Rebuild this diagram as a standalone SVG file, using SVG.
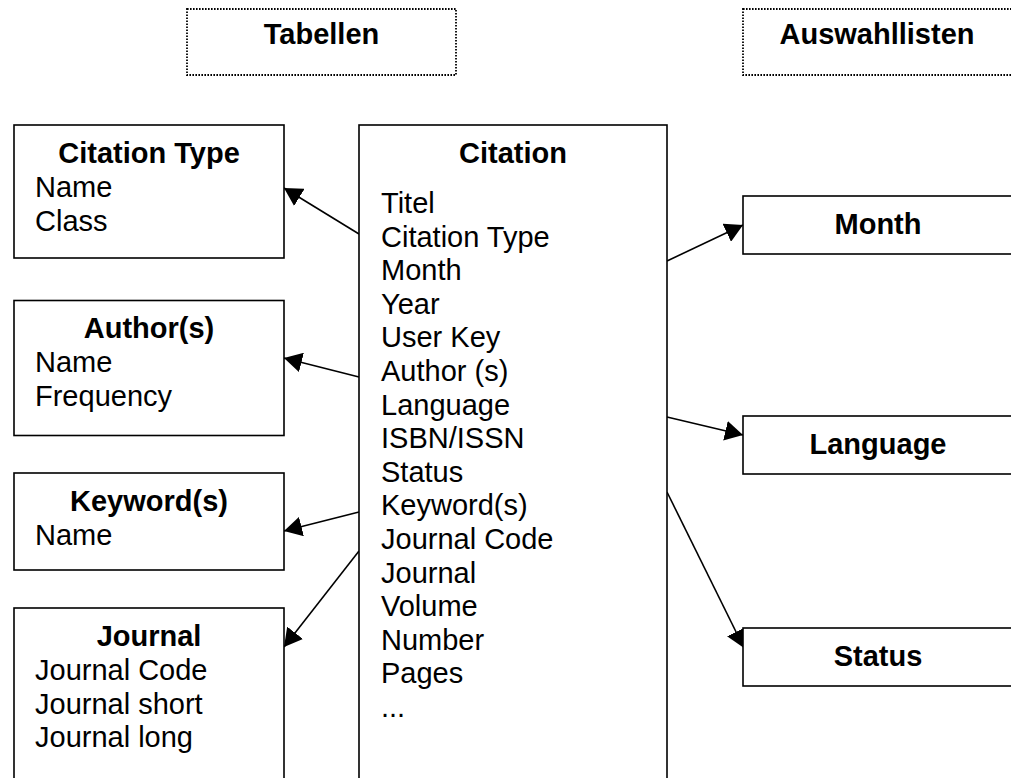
<svg xmlns="http://www.w3.org/2000/svg" width="1011" height="778" viewBox="0 0 1011 778">
<style>
text{font-family:"Liberation Sans",Arial,sans-serif;font-size:29px;fill:#000}
.b{font-weight:bold}
.c{text-anchor:middle}
.box{fill:#fff;stroke:#000;stroke-width:1.6}
.dot{fill:#fff;stroke:#000;stroke-width:1.8;stroke-dasharray:1.6 1.4}
.conn line{stroke:#000;stroke-width:1.6;marker-end:url(#arr)}
</style>
<defs>
<marker id="arr" viewBox="0 0 18 20" refX="18" refY="10" markerWidth="18" markerHeight="20" markerUnits="userSpaceOnUse" orient="auto">
<path d="M0,0 L18,10 L0,20 z" fill="#000"/>
</marker>
</defs>
<rect width="1011" height="778" fill="#fff"/>
<g id="hdr-tabellen">
<rect class="dot" x="187" y="9" width="269" height="66"/>
<text class="b c" x="321.5" y="44">Tabellen</text>
</g>
<g id="hdr-auswahllisten">
<rect class="dot" x="743" y="9" width="275" height="66"/>
<text class="b c" x="877" y="44">Auswahllisten</text>
</g>
<g class="conn" id="connectors">
<line x1="359" y1="234" x2="284" y2="188"/>
<line x1="359" y1="377" x2="284" y2="358"/>
<line x1="359" y1="512" x2="284" y2="531"/>
<line x1="359" y1="551" x2="284" y2="647"/>
<line x1="667" y1="261" x2="743" y2="225"/>
<line x1="667" y1="417" x2="743" y2="435"/>
<line x1="667" y1="492" x2="744" y2="648"/>
</g>
<g id="citation">
<rect class="box" x="359" y="125" width="308" height="670"/>
<text class="b c" x="513" y="163">Citation</text>
<text x="381" y="213">Titel</text>
<text x="381" y="246.6">Citation Type</text>
<text x="381" y="280.2">Month</text>
<text x="381" y="313.8">Year</text>
<text x="381" y="347.4">User Key</text>
<text x="381" y="381">Author (s)</text>
<text x="381" y="414.6">Language</text>
<text x="381" y="448.2">ISBN/ISSN</text>
<text x="381" y="481.8">Status</text>
<text x="381" y="515.4">Keyword(s)</text>
<text x="381" y="549">Journal Code</text>
<text x="381" y="582.6">Journal</text>
<text x="381" y="616.2">Volume</text>
<text x="381" y="649.8">Number</text>
<text x="381" y="683.4">Pages</text>
<text x="381" y="717">...</text>
</g>
<g id="citation-type">
<rect class="box" x="14" y="125" width="270" height="133"/>
<text class="b c" x="149" y="163">Citation Type</text>
<text x="35" y="197">Name</text>
<text x="35" y="230.6">Class</text>
</g>
<g id="authors">
<rect class="box" x="14" y="300.5" width="270" height="135"/>
<text class="b c" x="149" y="338">Author(s)</text>
<text x="35" y="372">Name</text>
<text x="35" y="405.6">Frequency</text>
</g>
<g id="keywords">
<rect class="box" x="14" y="473" width="270" height="97"/>
<text class="b c" x="149" y="511">Keyword(s)</text>
<text x="35" y="545">Name</text>
</g>
<g id="journal">
<rect class="box" x="14" y="608" width="270" height="190"/>
<text class="b c" x="149" y="646">Journal</text>
<text x="35" y="680">Journal Code</text>
<text x="35" y="713.6">Journal short</text>
<text x="35" y="747.2">Journal long</text>
</g>
<g id="month">
<rect class="box" x="743" y="196" width="270" height="58"/>
<text class="b c" x="878" y="234">Month</text>
</g>
<g id="language">
<rect class="box" x="743" y="416" width="270" height="58"/>
<text class="b c" x="878" y="454">Language</text>
</g>
<g id="status">
<rect class="box" x="743" y="628" width="270" height="58"/>
<text class="b c" x="878" y="666">Status</text>
</g>
</svg>
